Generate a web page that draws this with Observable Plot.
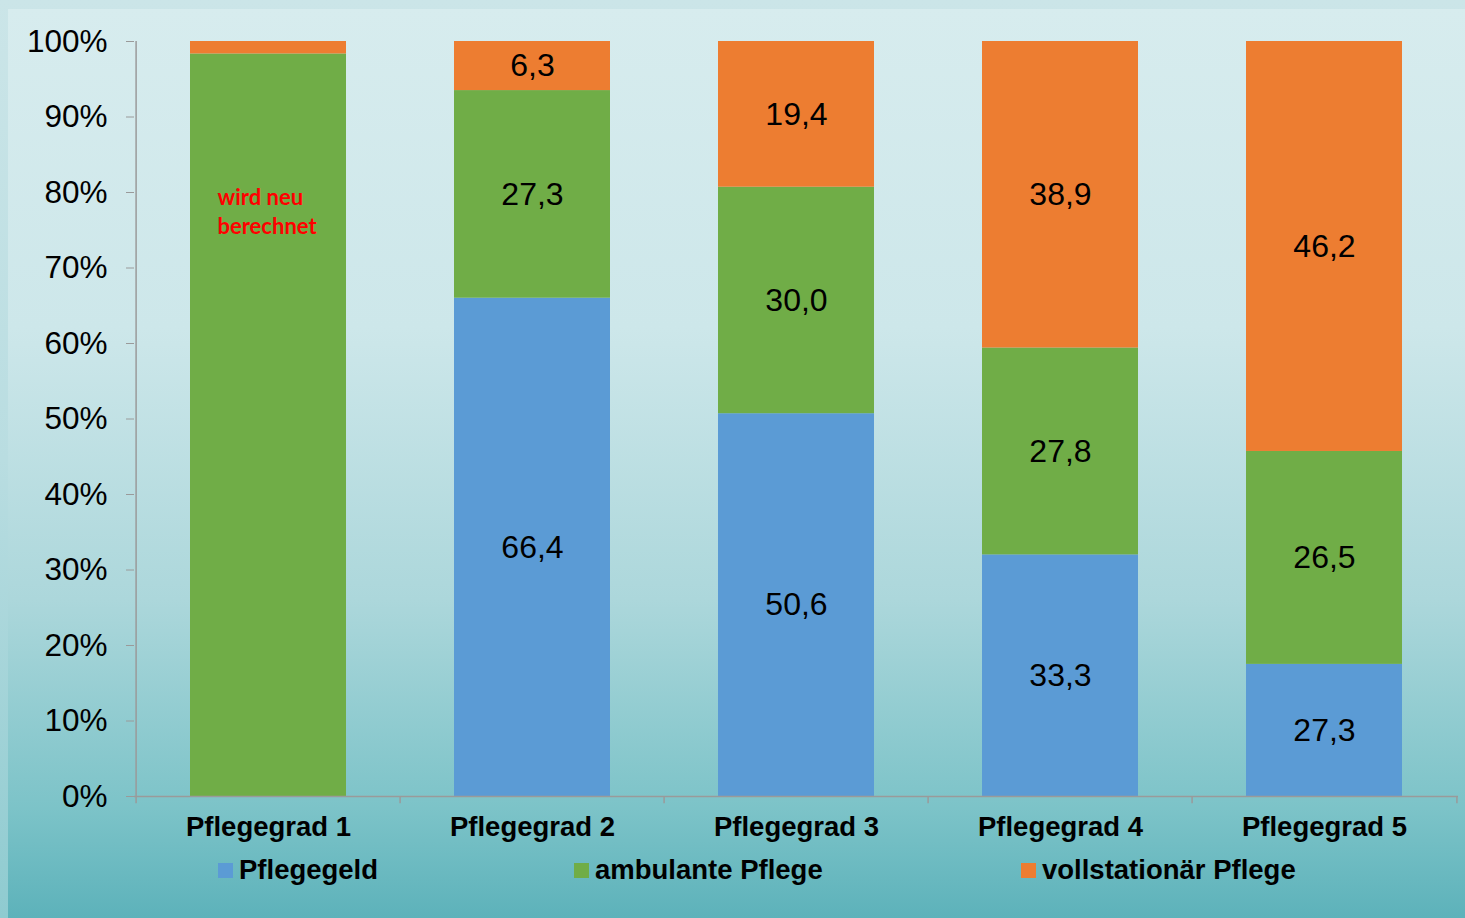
<!DOCTYPE html>
<html>
<head>
<meta charset="utf-8">
<script src="https://cdn.jsdelivr.net/npm/d3@7"></script>
<script src="https://cdn.jsdelivr.net/npm/@observablehq/plot@0.6"></script>
<style>
  html, body { margin: 0; padding: 0; }
  body { width: 1465px; height: 918px; overflow: hidden; font-family: "Liberation Sans", Arial, sans-serif; }
  #outer { position: relative; width: 1465px; height: 918px;
    background: linear-gradient(to bottom, #cbe5e8 0%, #b9dde1 50%, #8fcbd0 100%); }
  #inner { position: absolute; left: 8px; top: 9px; right: 0; bottom: 0;
    background: linear-gradient(to bottom, #d7ecee 0%, #cde7ea 35%, #acd7db 65%, #7cc3c8 88%, #5db2ba 100%); }
  #chart { position: absolute; left: 0; top: 0; }
  #legend { position: absolute; left: 0; top: 850px; width: 1465px; height: 40px; }
  .item { position: absolute; top: 0; height: 40px; display: flex; align-items: center;
    font: bold 27.5px "Liberation Sans", Arial, sans-serif; color: #000; }
  .sw { width: 15px; height: 15px; margin-right: 6px; }
</style>
</head>
<body>
<div id="outer"><div id="inner"></div><div id="chart"></div><div id="legend"></div></div>
<script>
const categories = ["Pflegegrad 1", "Pflegegrad 2", "Pflegegrad 3", "Pflegegrad 4", "Pflegegrad 5"];
const seriesNames = ["Pflegegeld", "ambulante Pflege", "vollstationär Pflege"];
const seriesColors = ["#5b9bd5", "#70ad47", "#ed7d31"];
// bar heights as drawn in the picture (percent)
const pflegegeld = [0, 66.0, 50.7, 32.0, 17.5];
const ambulant = [98.35, 27.5, 30.0, 27.4, 28.2];
const vollstationaer = [1.65, 6.5, 19.3, 40.6, 54.3];
// value labels as printed in the picture
const pflegegeldLabels = [null, "66,4", "50,6", "33,3", "27,3"];
const ambulantLabels = [null, "27,3", "30,0", "27,8", "26,5"];
const vollstationaerLabels = [null, "6,3", "19,4", "38,9", "46,2"];
const yTicks = [0, 10, 20, 30, 40, 50, 60, 70, 80, 90, 100];
const noteText = "wird neu\nberechnet";
const noteCategory = "Pflegegrad 1";
const noteY = 77.6;
const legendLeft = [218, 574, 1021];

const seriesValues = [pflegegeld, ambulant, vollstationaer];
const seriesLabels = [pflegegeldLabels, ambulantLabels, vollstationaerLabels];
const data = [];
categories.forEach((c, i) => {
  seriesNames.forEach((s, j) => {
    data.push({cat: c, series: s, value: seriesValues[j][i], label: seriesLabels[j][i]});
  });
});

const W = 1465, H = 850, mL = 134, mR = 7, mT = 41, mB = 54;
const pIn = 0.41, pOut = 0.205;
const step = (W - mL - mR) / (categories.length - pIn + 2 * pOut);
const grey = "#9a9a9a";

const plot = Plot.plot({
  width: W, height: H,
  marginLeft: mL, marginRight: mR, marginTop: mT, marginBottom: mB,
  style: {background: "transparent", fontFamily: "'Liberation Sans', Arial, sans-serif", color: "#000", overflow: "visible"},
  x: {domain: categories, paddingInner: pIn, paddingOuter: pOut, label: null},
  y: {domain: [0, 100], label: null},
  color: {domain: seriesNames, range: seriesColors},
  marks: [
    Plot.barY(data, {x: "cat", y: "value", fill: "series", order: seriesNames, inset: 0}),
    Plot.text(data, Plot.stackY({x: "cat", y: "value", z: "series", order: seriesNames,
      text: "label", filter: d => d.label != null, fontSize: 32, fill: "#000"})),
    Plot.text([{cat: noteCategory, y: noteY, t: noteText}], {x: "cat", y: "y", text: "t",
      textAnchor: "start", dx: -51, fill: "#ff0000", fontSize: 22, fontWeight: "bold",
      fontFamily: "Lato, 'Open Sans', sans-serif", lineHeight: 1.32}),
    Plot.ruleY([0], {stroke: grey, strokeWidth: 1.5}),
    Plot.ruleX([categories[0]], {x: d => d, y1: 0, y2: 100, dx: -step / 2, stroke: grey, strokeWidth: 1.5}),
    Plot.ruleX(categories, {x: d => d, y1: 0, y2: -0.95, dx: -step / 2, stroke: grey, strokeWidth: 1.5}),
    Plot.ruleX([categories[categories.length - 1]], {x: d => d, y1: 0, y2: -0.95, dx: step / 2, stroke: grey, strokeWidth: 1.5}),
    Plot.axisY({ticks: yTicks, tickFormat: d => d + "%", tickSize: 8, tickPadding: 19,
      stroke: grey, fill: "#000", fontSize: 31.5, label: null}),
    Plot.axisX({tickSize: 0, tickPadding: 20, fontSize: 27.5, fontWeight: "bold", fill: "#000", label: null})
  ]
});
document.getElementById("chart").appendChild(plot);

const legend = document.getElementById("legend");
seriesNames.forEach((s, i) => {
  const item = document.createElement("div");
  item.className = "item";
  item.style.left = legendLeft[i] + "px";
  const sw = document.createElement("span");
  sw.className = "sw";
  sw.style.background = seriesColors[i];
  const t = document.createElement("span");
  t.textContent = s;
  item.appendChild(sw);
  item.appendChild(t);
  legend.appendChild(item);
});
</script>
</body>
</html>
